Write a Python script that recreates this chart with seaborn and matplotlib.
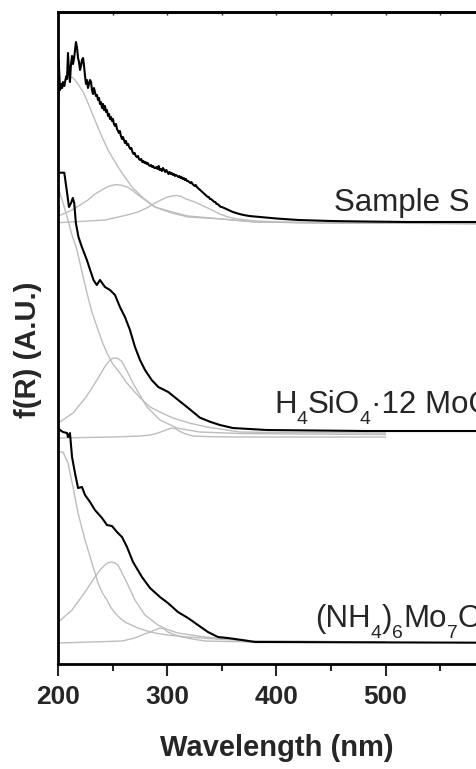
import matplotlib
matplotlib.use("Agg")
import matplotlib.pyplot as plt
import seaborn as sns
from matplotlib.ticker import MultipleLocator

sns.set_style("white")
plt.rcParams["font.family"] = ["Liberation Sans", "DejaVu Sans"]

# ---------------- Sample S ----------------
wl_s = [200.0, 200.3, 201.0, 201.6, 202.5, 203.5, 204.3, 205.5, 206.5, 207.5, 208.0, 208.9,
        209.8, 210.7, 211.5, 212.6, 213.5, 214.5, 215.3, 216.2, 217.2, 218.1, 219.0, 219.9,
        220.8, 221.7, 222.7, 223.6, 224.5, 225.4, 226.3, 227.2, 228.2, 229.1, 230.0, 230.9,
        231.8, 232.7, 233.6, 234.5, 235.5, 236.4, 237.3, 238.2, 239.1, 240.1, 241.0, 241.9,
        242.8, 243.7, 244.6, 245.6, 246.5, 247.4, 248.3, 249.2, 250.1, 251.0, 252.0, 252.9,
        253.8, 254.7, 255.6, 256.5, 257.4, 258.4, 259.3, 260.2, 261.1, 262.0, 263.0, 264.0,
        265.0, 266.0, 267.0, 268.0, 269.0, 270.0, 271.0, 272.0, 273.0, 274.0, 275.0, 276.0,
        277.0, 278.0, 279.0, 280.0, 281.0, 282.0, 283.0, 284.0, 285.0, 286.0, 287.0, 288.0,
        289.0, 290.0, 291.0, 292.0, 293.0, 294.0, 295.0, 296.0, 297.0, 298.0, 299.0, 300.0,
        301.0, 302.0, 303.0, 304.0, 305.0, 306.0, 307.0, 308.0, 309.0, 310.0, 311.0, 312.0,
        313.0, 314.0, 315.0, 316.0, 317.0, 318.0, 319.0, 320.0, 321.0, 322.0, 323.0, 324.0,
        325.0, 326.0, 327.0, 328.0, 329.0, 330.0, 331.0, 332.0, 333.0, 334.0, 335.0, 336.0,
        337.0, 338.0, 339.0, 340.0, 341.0, 342.0, 343.0, 344.0, 345.0, 346.0, 347.0, 348.0,
        349.0, 350.0, 352.0, 354.0, 356.0, 358.0, 360.0, 363.0, 366.0, 370.0, 375.0, 380.0,
        390.0, 400.0, 410.0, 420.0, 435.0, 450.0, 480.0, 520.0, 560.0, 600.0]
fr_s = [561, 604, 589, 574, 580, 576, 582, 578, 584, 588, 585, 611,
        592, 582, 598, 608, 600, 606, 614, 622, 616, 606, 602, 594,
        598, 604, 606, 598, 588, 580, 584, 576, 580, 584, 582, 574,
        570, 576, 572, 568, 569, 564, 566, 560, 562, 556, 560, 554,
        558, 552, 554, 548, 550, 545, 547, 543, 545, 540, 538, 540,
        535, 533, 531, 533, 528, 525, 527, 524, 521, 523, 519, 520,
        517, 515, 516, 512, 510, 511, 508, 507, 508, 505, 504, 505,
        502, 503, 501, 502, 500, 501, 499, 498, 499, 497, 498, 496,
        496, 497, 495, 498, 494, 495, 493, 496, 494, 492, 494, 492,
        490, 492, 490, 491, 489, 490, 488, 489, 488, 487, 488, 486,
        487, 485, 486, 484, 485, 483, 483, 482, 481, 482, 480, 479,
        478, 479, 477, 476, 475, 474, 473, 472, 471, 470, 469, 468,
        467, 467, 465, 465, 464, 463, 462, 462, 460, 460, 459, 458,
        457, 457, 456, 455, 454, 453, 452, 451, 450, 449, 448, 447.5,
        446.5, 445.5, 444.7, 444, 443.5, 443, 442.5, 442, 442, 442]

# fitted components, Sample S
wl_s1 = [200, 203, 206.1, 208, 210.7, 213, 215.3, 218, 221.7, 224.5, 227.2, 230.5, 233.6,
         237, 240.1, 245.6, 252.0, 258.4, 267.6, 276.7, 288.6, 304.2, 318.9, 335, 350.0,
         380.3, 450, 600]
fr_s1 = [571, 577, 582, 585.5, 587, 586.5, 584, 580, 574, 568, 561, 552, 544,
         535, 527, 514, 502, 491, 477, 467, 457, 452, 448, 446.5, 445,
         442, 441, 440.5]
wl_s2 = [200, 212.6, 220, 227.2, 233.6, 240.1, 244, 247, 250.5, 253.8, 257, 260, 264,
         267.6, 272, 279.5, 288.6, 296, 304.2, 318.9, 350, 380.3, 450, 600]
fr_s2 = [448, 454, 459, 464, 470, 474, 476.5, 478, 479, 479.3, 479, 478, 476.5,
         474, 470, 464, 457, 454, 451, 447, 445, 442, 441, 440.5]
wl_s3 = [200, 242.8, 255, 265, 273.0, 281, 288.6, 295, 300, 304.5, 308.8, 313, 317,
         325.3, 333, 340.9, 348, 355.5, 365, 380.3, 420, 600]
fr_s3 = [441.3, 444, 447, 449.5, 452, 456, 461, 464.5, 467, 468, 468.5, 467.5, 465,
         462, 458, 454, 450, 447, 445, 443, 441.5, 440]

# ---------------- H4SiO4·12 MoO3 ----------------
wl_h = [200, 205.5, 207.7, 209.8, 211.7, 213.3, 214.6, 216.1, 218.5, 221.6, 226.2, 229.2,
        232.3, 235.3, 238.2, 242.8, 247.4, 252.0, 256.5, 261.1, 265.7, 270.3, 274.9, 279.5,
        285.6, 291.7, 300.8, 309.9, 319.1, 329.9, 339.0, 348.2, 360.1, 391.3, 482.9, 600]
fr_h = [491.3, 491.3, 474, 457, 461, 466, 461, 441, 427, 417, 404, 394,
        384, 379, 384, 377, 374, 369, 357, 347, 334, 317, 304, 294,
        284, 277, 272, 264, 256, 246.3, 242.3, 239, 236, 234, 233, 233]

wl_h1 = [200, 203, 206, 208.9, 212, 217.1, 221.5, 226.3, 230.5, 235.5, 240, 244.6, 250,
         256.5, 262, 268.5, 276, 284.1, 295, 305.1, 320, 336.3, 366.5, 400, 450, 500]
fr_h1 = [476, 466, 455, 444, 431, 414, 393, 371, 353, 337, 323, 311, 300,
         291, 282, 274, 265, 257, 251, 246, 241, 237, 232, 231.5, 231.3, 231]
wl_h2 = [200, 213.5, 225.4, 232, 238.2, 243, 247.4, 250, 252, 254.5, 258, 261, 263.9,
         268, 272.1, 281.3, 293.2, 308.8, 329.9, 366.5, 420, 500]
fr_h2 = [241, 251, 267, 278, 289, 298, 304, 305.7, 306, 305.5, 303, 297, 291,
         282, 274, 257, 244, 236, 232, 230.5, 230, 229.5]
wl_h3 = [200, 250, 275, 284.1, 290, 295, 300, 304.2, 308, 311.5, 317, 323.5, 340, 366.5, 500]
fr_h3 = [226, 227, 228, 229, 230.5, 232.5, 234.5, 236, 235, 232.5, 230, 228, 227.3, 227, 227]

# ---------------- (NH4)6Mo7O24 ----------------
wl_n = [200, 201.6, 204.3, 208.0, 208.9, 210.7, 212.6, 215.3, 218.1, 221.7, 224.5, 229.1,
        233.6, 240.1, 244.6, 249.2, 253.8, 258.4, 263.0, 268.5, 276.7, 284.1, 293.2, 300.5,
        309.7, 318.9, 328.0, 337.2, 346.4, 355.5, 368.4, 380.3, 391.3, 600]
fr_n = [236, 234, 232, 231, 227, 231, 207, 191, 176, 177, 169, 162,
        154, 146, 139, 138, 132, 127, 117, 102, 87, 76, 67, 61,
        52, 46, 39, 32, 27, 26, 24, 22, 22, 21.3]

wl_n1 = [200, 204.3, 208.9, 213.5, 218.1, 224.5, 230.9, 236.4, 240.5, 244.6, 248, 252.0,
         256.5, 261.1, 267, 273.0, 280, 288.6, 300, 318.9, 345, 380.3, 500]
fr_n1 = [212, 212, 201, 177, 151, 124, 101, 81, 71, 64, 57, 51,
         46, 42, 39, 36, 33.5, 31, 29, 27, 25, 23, 22]
wl_n2 = [200, 212.6, 224.5, 233.6, 239, 242.8, 246, 249.2, 252, 254.7, 258, 263.0, 270.3,
         279.5, 291.4, 300, 309.7, 334.5, 380.3, 500]
fr_n2 = [42, 54, 72, 87, 95, 99, 101.5, 102, 101, 99, 92, 81, 64,
         49, 39, 34.5, 31, 27, 23, 22]
wl_n3 = [200, 258.4, 270, 276.7, 283, 288.6, 293.2, 297, 300.5, 306, 313.4, 323, 334.5, 380.3, 500]
fr_n3 = [21, 23, 26, 29, 31.5, 34, 36, 35, 32, 29.5, 27, 25, 23, 22, 22]

# text pieces: (string, is_subscript)
label_sample = "Sample S"
label_acid = [("H", False), ("4", True), ("SiO", False), ("4", True), ("·12 MoO", False), ("3", True)]
label_amm = [("(NH", False), ("4", True), (")", False), ("6", True), ("Mo", False), ("7", True),
             ("O", False), ("24", True)]

xticks_major = [200, 300, 400, 500]

# ---------------- figure ----------------
fig = plt.figure(figsize=(4.77, 7.69), dpi=100)
ax = fig.add_axes([0.1222, 0.1365, 0.9149, 0.8479])

gray = "#bdbdbd"
for wl, fr in [(wl_s1, fr_s1), (wl_s2, fr_s2), (wl_s3, fr_s3),
               (wl_h1, fr_h1), (wl_h2, fr_h2), (wl_h3, fr_h3),
               (wl_n1, fr_n1), (wl_n2, fr_n2), (wl_n3, fr_n3)]:
    sns.lineplot(x=wl, y=fr, ax=ax, color=gray, lw=1.0, estimator=None, sort=False)

for wl, fr in [(wl_s, fr_s), (wl_h, fr_h), (wl_n, fr_n)]:
    sns.lineplot(x=wl, y=fr, ax=ax, color="black", lw=1.5, estimator=None, sort=False)

ax.set_xlim(200, 600)
ax.set_ylim(0, 652)

ax.xaxis.set_major_locator(plt.FixedLocator(xticks_major))
ax.xaxis.set_minor_locator(MultipleLocator(50))
ax.set_yticks([])
ax.tick_params(axis="x", which="major", direction="out", length=8.3, width=1.5, pad=7,
               labelsize=19, bottom=True, top=False)
ax.tick_params(axis="x", which="minor", direction="out", length=4.7, width=1.5,
               bottom=True, top=False)
for lab in ax.get_xticklabels():
    lab.set_fontweight("bold")

for side in ["left", "bottom", "top", "right"]:
    ax.spines[side].set_linewidth(2.0)
    ax.spines[side].set_color("black")

top = ax.secondary_xaxis("top")
top.xaxis.set_major_locator(plt.FixedLocator(xticks_major))
top.xaxis.set_minor_locator(MultipleLocator(50))
top.tick_params(which="both", direction="in", length=2.5, width=1.0, labeltop=False)
top.spines["top"].set_linewidth(2.0)

ax.set_xlabel("Wavelength (nm)", fontsize=21, fontweight="bold")
ax.set_ylabel("f(R) (A.U.)", fontsize=21, fontweight="bold")
ax.xaxis.set_label_coords(0.5, -0.108)
ax.yaxis.set_label_coords(-0.037, 0.482)


def chem_label(x, y, parts, size, gap=0.0):
    """Write a formula piece by piece, with lowered, smaller subscripts."""
    renderer = fig.canvas.get_renderer()
    off = 0.0
    for s, sub in parts:
        fs = size * 0.62 if sub else size
        dy = -0.36 * size if sub else 0.0
        t = ax.annotate(s, xy=(x, y), xycoords="data", xytext=(off, dy),
                        textcoords="offset points", fontsize=fs, va="baseline",
                        ha="left", annotation_clip=False)
        off += t.get_window_extent(renderer).width * 72.0 / fig.dpi + gap


ax.text(452.7, 453, label_sample, fontsize=22.5, va="baseline", ha="left")
chem_label(398.0, 251, label_acid, 22.5)
chem_label(435.7, 37.3, label_amm, 22.5)

fig.savefig("out.png", dpi=100)
